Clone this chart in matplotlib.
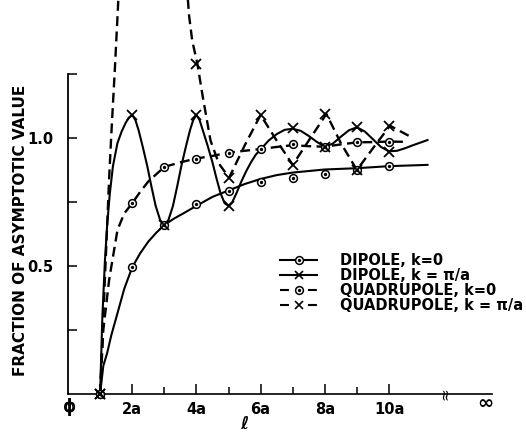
import matplotlib
matplotlib.use("Agg")
import numpy as np
import matplotlib.pyplot as plt
from matplotlib.lines import Line2D
from matplotlib.legend_handler import HandlerTuple

plt.rcParams['font.family'] = ['DejaVu Sans']
plt.rcParams['font.weight'] = 'bold'

# l in units of a
major_ticks = [2, 4, 6, 8, 10]
major_labels = ['2a', '4a', '6a', '8a', '10a']
minor_ticks = [3, 5, 7, 9]
y_ticks = [0.25, 0.5, 0.75, 1.0, 1.25]
y_labels = ['', '0.5', '', '1.0', '']

labels = ['DIPOLE, k=0', 'DIPOLE, k = \u03c0/a',
          'QUADRUPOLE, k=0', 'QUADRUPOLE, k = \u03c0/a']

# dipole, k=0 : smooth curve + computed points
dip0_curve_x = [1.0, 1.1, 1.22, 1.35, 1.54, 1.75, 2.0, 2.25, 2.5, 2.75, 3.0, 3.3, 3.6,
                4.0, 4.5, 5.0, 5.5, 6.0, 6.5, 7.0, 8.0, 9.0, 10.0, 11.2]
dip0_curve_y = [0.0, 0.11, 0.16, 0.23, 0.315, 0.41, 0.495, 0.55, 0.595, 0.63, 0.66, 0.685,
                0.706, 0.735, 0.77, 0.795, 0.82, 0.84, 0.855, 0.865, 0.877, 0.882, 0.89, 0.895]
dip0_x = [1, 2, 3, 4, 5, 6, 7, 8, 9, 10]
dip0_y = [0.0, 0.495, 0.66, 0.743, 0.794, 0.829, 0.842, 0.859, 0.875, 0.892]

# dipole, k=pi/a
dipk_curve_x = [1.0, 1.07, 1.15, 1.22, 1.3, 1.4, 1.54, 1.67, 1.8, 1.9, 2.0, 2.1, 2.2, 2.33,
                2.47, 2.6, 2.73, 2.87, 3.0, 3.13, 3.27, 3.4, 3.53, 3.67, 3.8, 3.9, 4.0, 4.1,
                4.2, 4.35, 4.5, 4.62, 4.75, 4.88, 5.0, 5.12, 5.25, 5.4, 5.55, 5.7, 5.85, 6.0,
                6.25, 6.5, 6.75, 7.0, 7.25, 7.5, 7.75, 8.0, 8.25, 8.5, 8.75, 9.0, 9.25, 9.5,
                9.75, 10.0, 10.25, 10.5, 10.75, 11.0, 11.2]
dipk_curve_y = [0.0, 0.3, 0.52, 0.66, 0.78, 0.89, 0.98, 1.025, 1.06, 1.08, 1.09, 1.07, 1.03,
                0.965, 0.89, 0.81, 0.735, 0.68, 0.66, 0.68, 0.735, 0.81, 0.89, 0.965, 1.03,
                1.07, 1.09, 1.07, 1.03, 0.97, 0.905, 0.845, 0.785, 0.745, 0.735, 0.75, 0.785,
                0.83, 0.87, 0.905, 0.935, 0.955, 0.99, 1.015, 1.032, 1.036, 1.028, 1.008,
                0.985, 0.966, 0.978, 1.005, 1.03, 1.042, 1.025, 0.995, 0.965, 0.948, 0.95,
                0.96, 0.972, 0.983, 0.992]
dipk_x = [1, 2, 3, 4, 5, 7, 8, 9, 10]
dipk_y = [0.0, 1.09, 0.66, 1.09, 0.735, 1.038, 0.966, 1.044, 0.947]

# quadrupole, k=0
quad0_curve_x = [1.0, 1.1, 1.28, 1.54, 1.75, 2.0, 2.25, 2.5, 3.0, 3.5, 4.0, 4.5, 5.0, 5.5,
                 6.0, 6.5, 7.0, 7.5, 8.0, 8.5, 9.0, 9.5, 10.0, 10.6]
quad0_curve_y = [0.0, 0.25, 0.445, 0.64, 0.705, 0.745, 0.79, 0.83, 0.887, 0.905, 0.92, 0.93,
                 0.943, 0.95, 0.957, 0.965, 0.972, 0.968, 0.966, 0.975, 0.983, 0.984, 0.986,
                 0.985]
quad0_x = [1, 2, 3, 4, 5, 6, 7, 8, 9, 10]
quad0_y = [0.0, 0.745, 0.887, 0.919, 0.943, 0.957, 0.975, 0.966, 0.983, 0.986]

# quadrupole, k=pi/a (runs off the top between ~1.6a and ~3.7a)
quadk_curve_x = [1.0, 1.1, 1.2, 1.28, 1.36, 1.46, 1.56, 1.6, np.nan,
                 3.7, 3.77, 3.87, 4.03, 4.2, 4.44, 4.7, 5.02, 5.5, 6.0, 6.5, 7.0, 7.5, 8.05,
                 8.5, 9.0, 9.5, 10.03, 10.67]
quadk_curve_y = [0.0, 0.3, 0.6, 0.84, 1.04, 1.27, 1.52, 1.62, np.nan,
                 1.6, 1.48, 1.38, 1.29, 1.16, 0.99, 0.9, 0.845, 0.97, 1.09, 0.99, 0.895, 0.99,
                 1.094, 0.98, 0.875, 0.96, 1.048, 1.005]
quadk_x = [1, 4, 5, 6, 7, 8, 9, 10]
quadk_y = [0.0, 1.29, 0.845, 1.09, 0.895, 1.094, 0.875, 1.048]

W, H = 526, 432
fig = plt.figure(figsize=(W / 100, H / 100), dpi=100)
ax = fig.add_axes([68 / W, 38 / H, 424 / W, 394 / H])
ax.set_xlim(0, 424 / 32.1)
ax.set_ylim(0, 394 / 256)

dash = (0, (4.2, 2.3))
ax.plot(dip0_curve_x, dip0_curve_y, color='k', lw=1.5, zorder=2)
ax.plot(dipk_curve_x, dipk_curve_y, color='k', lw=1.5, zorder=2)
ax.plot(quad0_curve_x, quad0_curve_y, color='k', lw=1.7, ls=dash, zorder=2)
ax.plot(quadk_curve_x, quadk_curve_y, color='k', lw=1.7, ls=dash, zorder=2)


def circles(x, y):
    ax.plot(x, y, ls='none', marker='o', ms=5.6, mfc='white', mec='k', mew=1.1,
            zorder=3, clip_on=False)
    ax.plot(x, y, ls='none', marker='o', ms=1.4, color='k', zorder=3.5, clip_on=False)


def crosses(x, y):
    ax.plot(x, y, ls='none', marker='x', ms=7, mew=1.3, color='k', zorder=4, clip_on=False)


circles(dip0_x, dip0_y)
circles(quad0_x, quad0_y)
crosses(dipk_x, dipk_y)
crosses(quadk_x, quadk_y)

# axes styling
for s in ['top', 'right']:
    ax.spines[s].set_visible(False)
ax.spines['left'].set_bounds(0, 1.25)
ax.spines['left'].set_linewidth(1.3)
ax.spines['bottom'].set_linewidth(1.2)

ax.set_xticks(major_ticks)
ax.set_xticklabels(major_labels)
ax.set_xticks(minor_ticks, minor=True)
ax.set_yticks(y_ticks)
ax.set_yticklabels(y_labels)
ax.tick_params(axis='x', which='major', direction='in', length=7.2, width=1.1, pad=6,
               labelsize=10.5)
ax.tick_params(axis='x', which='minor', direction='in', length=4.7, width=1.1)
ax.tick_params(axis='y', direction='in', length=6.8, width=1.1, pad=10.5, labelsize=10.5)

xt = ax.get_xaxis_transform()
ax.text(0.05, -0.033, '\u03d5', transform=xt, ha='center', va='center', fontsize=12)
ax.text(13.0, -0.024, '\u221e', transform=xt, ha='center', va='center', fontsize=14)
ax.text(11.74, 0.0, '\u2248', transform=xt, rotation=90, ha='center', va='center',
        fontsize=11, fontweight='normal')
fig.text(244 / W, (H - 429) / H, '\u2113', ha='center', va='baseline', fontsize=12.5,
         fontstyle='italic')

ax.set_ylabel('FRACTION OF ASYMPTOTIC VALUE', fontsize=11, fontweight='bold')
ax.yaxis.label.set_va('center')
ax.yaxis.set_label_coords((21 - 68) / 424, (394 - 230) / 394)

# legend
dot = Line2D([], [], ls='none', marker='o', ms=1.4, color='k')
leg_ls = (0, (4.3, 9.1))
h1 = (Line2D([], [], color='k', lw=1.5, marker='o', ms=5.6, mfc='white', mec='k', mew=1.1), dot)
h2 = Line2D([], [], color='k', lw=1.5, marker='x', ms=6, mew=1.2)
h3 = (Line2D([], [], color='k', lw=1.5, ls=leg_ls, marker='o', ms=5.6, mfc='white', mec='k',
             mew=1.1), dot)
h4 = Line2D([], [], color='k', lw=1.5, ls=leg_ls, marker='x', ms=6, mew=1.2)
ax.legend([h1, h2, h3, h4], labels,
          handler_map={tuple: HandlerTuple(ndivide=1, pad=0)},
          loc='upper left', bbox_to_anchor=(280 / W, 1 - 253 / H),
          bbox_transform=fig.transFigure, frameon=False, fontsize=10.5,
          handlelength=2.55, handletextpad=1.55, labelspacing=0.0, borderpad=0,
          borderaxespad=0, numpoints=1)

fig.savefig('out.png', dpi=100)
